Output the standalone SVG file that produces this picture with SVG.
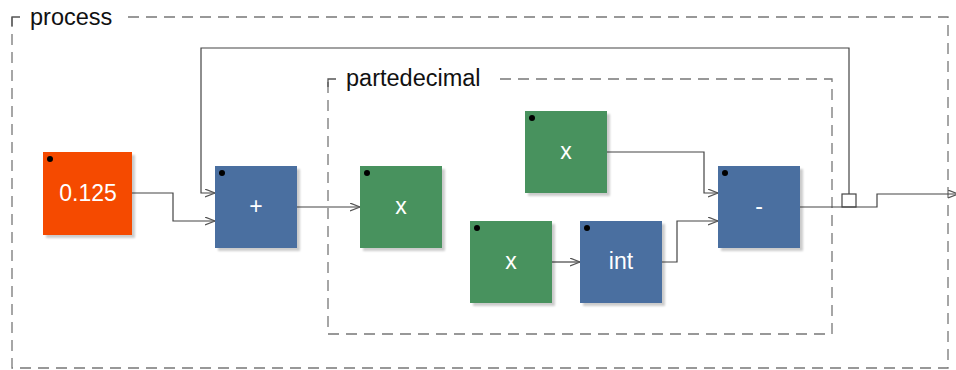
<svg xmlns="http://www.w3.org/2000/svg" width="956" height="370" viewBox="0 0 956 370">
<style>
.frame{fill:none;stroke:#777;stroke-width:1.3;stroke-dasharray:11,7}
.corner{fill:none;stroke:#555;stroke-width:1.3}
.flabel{font-family:"Liberation Sans",Arial,sans-serif;font-size:23.5px;fill:#111}
.nlabel{font-family:"Liberation Sans",Arial,sans-serif;font-size:23px;fill:#fff;text-anchor:middle}
.shadow{fill:#000;opacity:0.2;filter:url(#blur)}
.dot{fill:#000}
.blue{fill:#4a6fa0}
.green{fill:#48925e}
.orange{fill:#f54a00}
.edge{fill:none;stroke:#444;stroke-width:1.2}
</style>
<defs>
<filter id="blur" x="-10%" y="-10%" width="130%" height="130%"><feGaussianBlur stdDeviation="1"/></filter>
<marker id="arr" markerUnits="userSpaceOnUse" markerWidth="12" markerHeight="10" refX="10" refY="4" orient="auto">
<path d="M0,0 L10,4 L0,8" fill="none" stroke="#555" stroke-width="1.2"/>
</marker>
</defs>
<rect width="956" height="370" fill="#fff"/>

<g id="process">
<path class="frame" d="M128,17 H948 V368 H12 V17"/>
<path class="corner" d="M12,26 V17 H20"/>
<text class="flabel" x="30" y="25">process</text>
</g>

<g id="partedecimal">
<path class="frame" d="M500,79 H832 V334 H328 V79"/>
<path class="corner" d="M328,87 V79 H336"/>
<text class="flabel" x="346" y="86">partedecimal</text>
</g>

<g id="connectors">
<path class="edge" d="M132,193 H173 V221 H215" marker-end="url(#arr)"/>
<path class="edge" d="M849,194 V48 H201 V193 H215" marker-end="url(#arr)"/>
<path class="edge" d="M297,207 H360" marker-end="url(#arr)"/>
<path class="edge" d="M607,152 H704 V193 H718" marker-end="url(#arr)"/>
<path class="edge" d="M552,262 H580" marker-end="url(#arr)"/>
<path class="edge" d="M662,262 H677 V221 H718" marker-end="url(#arr)"/>
<path class="edge" d="M800,207 H877 V194 H958" marker-end="url(#arr)"/>
<rect class="edge" x="842" y="194" width="14" height="13"/>
</g>

<g id="n0125">
<rect class="shadow" x="46" y="155" width="89" height="83"/>
<rect class="orange" x="43" y="152" width="89" height="83"/>
<circle class="dot" cx="50" cy="159" r="3"/>
<text class="nlabel" x="88" y="201">0.125</text>
</g>

<g id="nplus">
<rect class="shadow" x="218" y="169" width="82" height="82"/>
<rect class="blue" x="215" y="166" width="82" height="82"/>
<circle class="dot" cx="222" cy="173" r="3"/>
<text class="nlabel" x="256" y="214">+</text>
</g>

<g id="nx1">
<rect class="shadow" x="363" y="169" width="82" height="82"/>
<rect class="green" x="360" y="166" width="82" height="82"/>
<circle class="dot" cx="367" cy="173" r="3"/>
<text class="nlabel" x="401" y="214">x</text>
</g>

<g id="nx2">
<rect class="shadow" x="528" y="114" width="82" height="82"/>
<rect class="green" x="525" y="111" width="82" height="82"/>
<circle class="dot" cx="532" cy="118" r="3"/>
<text class="nlabel" x="566" y="159">x</text>
</g>

<g id="nx3">
<rect class="shadow" x="473" y="224" width="82" height="82"/>
<rect class="green" x="470" y="221" width="82" height="82"/>
<circle class="dot" cx="477" cy="228" r="3"/>
<text class="nlabel" x="511" y="269">x</text>
</g>

<g id="nint">
<rect class="shadow" x="583" y="224" width="82" height="82"/>
<rect class="blue" x="580" y="221" width="82" height="82"/>
<circle class="dot" cx="587" cy="228" r="3"/>
<text class="nlabel" x="621" y="269">int</text>
</g>

<g id="nminus">
<rect class="shadow" x="721" y="169" width="82" height="82"/>
<rect class="blue" x="718" y="166" width="82" height="82"/>
<circle class="dot" cx="725" cy="173" r="3"/>
<text class="nlabel" x="759" y="214">-</text>
</g>
</svg>
